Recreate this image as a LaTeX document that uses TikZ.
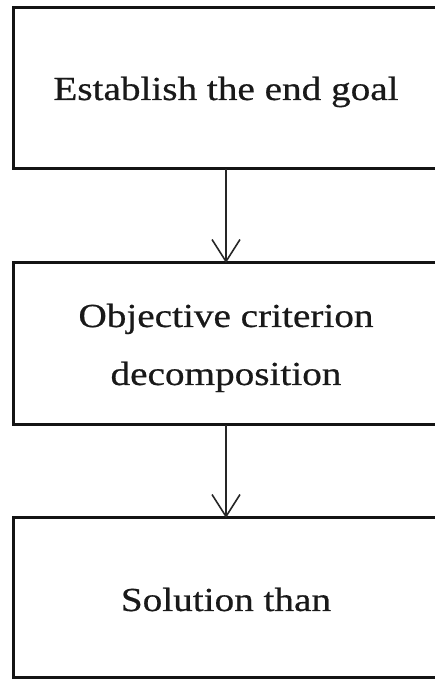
\documentclass[tikz,border=0pt]{standalone}
\usepackage{fontspec}
\setmainfont{Liberation Serif}[FakeStretch=1.167,FakeBold=0.6]
\usetikzlibrary{arrows.meta}
\begin{document}
\begin{tikzpicture}[x=1pt,y=1pt,
  box/.style={rectangle, draw=black!92, line width=3pt, minimum width=426pt, inner sep=0pt, outer sep=0pt},
  lbl/.style={anchor=base, inner sep=0pt, outer sep=0pt, font=\fontsize{33.6}{40}\selectfont, text=black!90},
  conn/.style={draw=black!85, line width=1.6pt, -{Straight Barb[length=22pt,width=28pt,line width=1.6pt]}}]
\useasboundingbox (0,0) rectangle (435,680);
\clip (0,0) rectangle (435,680);
\node[box, minimum height=161pt] (b1) at (226,591.5) {};
\node[box, minimum height=162pt] (b2) at (226,336) {};
\node[box, minimum height=160pt] (b3) at (226,82) {};
\node[lbl] (t1) at (226,580) {Establish the end goal};
\node[lbl] (t2a) at (226,353) {Objective criterion};
\node[lbl] (t2b) at (226,295) {decomposition};
\node[lbl] (t3) at (226,69) {Solution than};
\draw[conn] (b1.south) -- (b2.north);
\draw[conn] (b2.south) -- (b3.north);
\end{tikzpicture}
\end{document}
